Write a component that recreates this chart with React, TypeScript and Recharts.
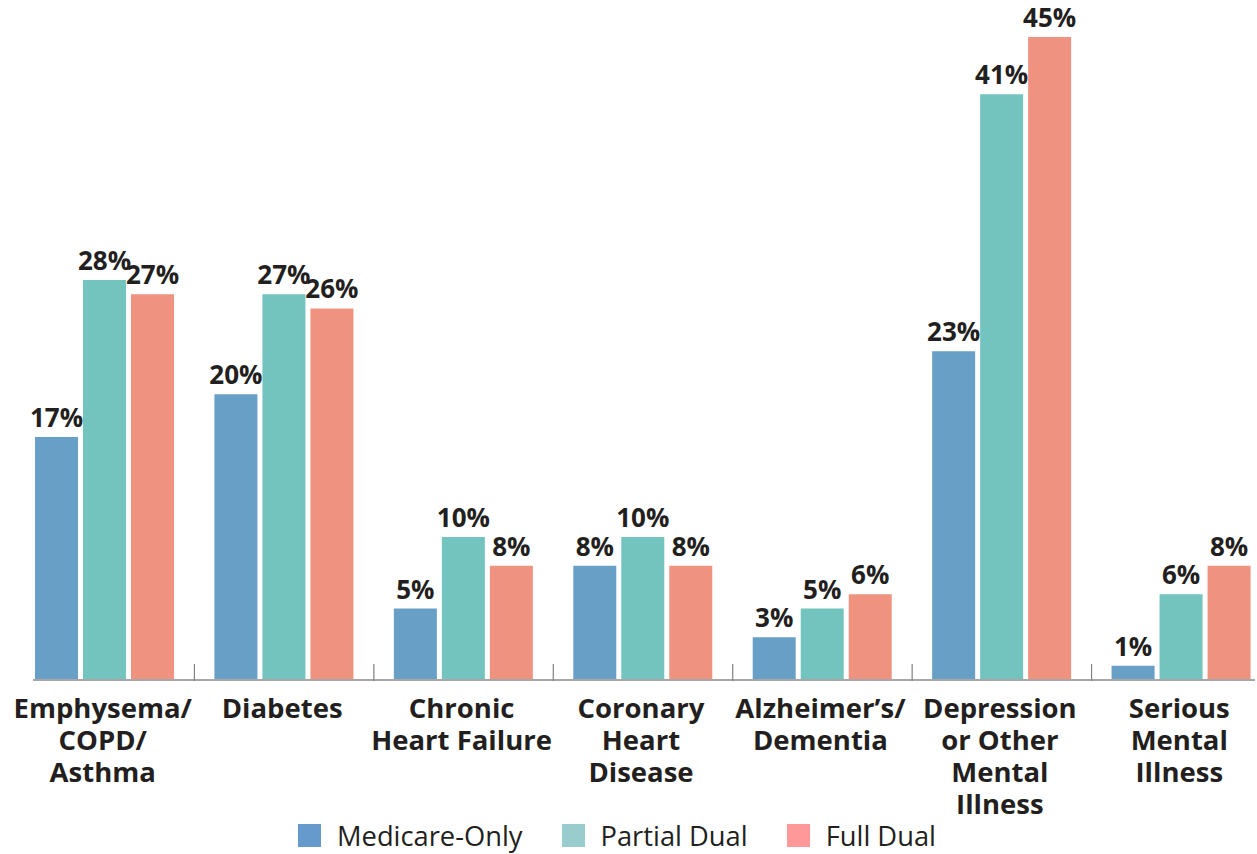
import React from 'react';
import { BarChart, Bar, XAxis, YAxis, LabelList, Legend } from 'recharts';

const categories = [
  'Emphysema/\nCOPD/\nAsthma',
  'Diabetes',
  'Chronic\nHeart Failure',
  'Coronary\nHeart\nDisease',
  'Alzheimer’s/\nDementia',
  'Depression\nor Other\nMental\nIllness',
  'Serious\nMental\nIllness',
];
const medicareOnly = [17, 20, 5, 8, 3, 23, 1];
const partialDual = [28, 27, 10, 10, 5, 41, 6];
const fullDual = [27, 26, 8, 8, 6, 45, 8];
const boundaryTicks = [1, 2, 3, 4, 5, 6];

const seriesNames = ['Medicare-Only', 'Partial Dual', 'Full Dual'];
const barColors = ['#689fc6', '#73c3be', '#ef9280'];
const legendColors = ['#6699cc', '#99cccc', '#ff9999'];

const data = categories.map((c, i) => ({
  category: c,
  m: medicareOnly[i],
  p: partialDual[i],
  f: fullDual[i],
}));

const FONT = '"Open Sans", "DejaVu Sans", sans-serif';
const TEXT = '#231f20';

const CategoryTick = (props: any) => {
  const { x, y, payload } = props;
  const lines = String(payload.value).split('\n');
  return (
    <g>
      {lines.map((l: string, i: number) => (
        <text
          key={i}
          x={x - 2}
          y={y + 38 + i * 32}
          textAnchor="middle"
          fontFamily={FONT}
          fontWeight={700}
          fontSize={27.5}
          fill={TEXT}
        >
          {l}
        </text>
      ))}
    </g>
  );
};

const EmptyTick = () => <g />;

const LegendContent = () => (
  <div style={{ display: 'flex', alignItems: 'flex-start', fontFamily: FONT }}>
    {seriesNames.map((n, i) => (
      <div key={n} style={{ display: 'flex', alignItems: 'flex-start', marginRight: 39 }}>
        <div style={{ width: 23, height: 23, background: legendColors[i], marginRight: 16 }} />
        <span style={{ fontSize: 27.3, lineHeight: '23px', color: TEXT, whiteSpace: 'nowrap' }}>{n}</span>
      </div>
    ))}
  </div>
);

const pct = (v: any) => `${v}%`;
const labelStyle = { fontFamily: FONT, fontWeight: 700, fontSize: 26, fill: TEXT };

export default function App() {
  return (
    <div style={{ position: 'absolute', left: 0, top: 0, width: 1257, height: 854, background: '#fff' }}>
      <BarChart
        width={1257}
        height={854}
        data={data}
        margin={{ top: 37, right: 2, left: 33, bottom: 172 }}
        barSize={43}
        barGap={5}
      >
        <YAxis hide domain={[0, 45]} />
        <XAxis
          xAxisId="cat"
          dataKey="category"
          type="category"
          padding={{ left: -18, right: -16 }}
          height={1}
          interval={0}
          tickLine={false}
          tickSize={0}
          tickMargin={0}
          axisLine={{ stroke: '#a7a7a7', strokeWidth: 2 }}
          tick={<CategoryTick />}
        />
        <XAxis
          xAxisId="grid"
          type="number"
          domain={[0, 6]}
          ticks={boundaryTicks}
          interval={0}
          padding={{ left: -18, right: 163.43 }}
          height={1}
          axisLine={false}
          tick={<EmptyTick />}
          tickSize={-17}
          tickLine={{ stroke: '#808080', strokeWidth: 1.2 }}
          allowDataOverflow
        />
        <Legend
          layout="horizontal"
          verticalAlign="middle"
          align="center"
          wrapperStyle={{ left: 298, top: 824, width: 900 }}
          content={<LegendContent />}
        />
        <Bar xAxisId="cat" dataKey="m" name={seriesNames[0]} fill={barColors[0]} isAnimationActive={false}>
          <LabelList dataKey="m" position="top" offset={10} formatter={pct} style={labelStyle} />
        </Bar>
        <Bar xAxisId="cat" dataKey="p" name={seriesNames[1]} fill={barColors[1]} isAnimationActive={false}>
          <LabelList dataKey="p" position="top" offset={10} formatter={pct} style={labelStyle} />
        </Bar>
        <Bar xAxisId="cat" dataKey="f" name={seriesNames[2]} fill={barColors[2]} isAnimationActive={false}>
          <LabelList dataKey="f" position="top" offset={10} formatter={pct} style={labelStyle} />
        </Bar>
      </BarChart>
    </div>
  );
}
